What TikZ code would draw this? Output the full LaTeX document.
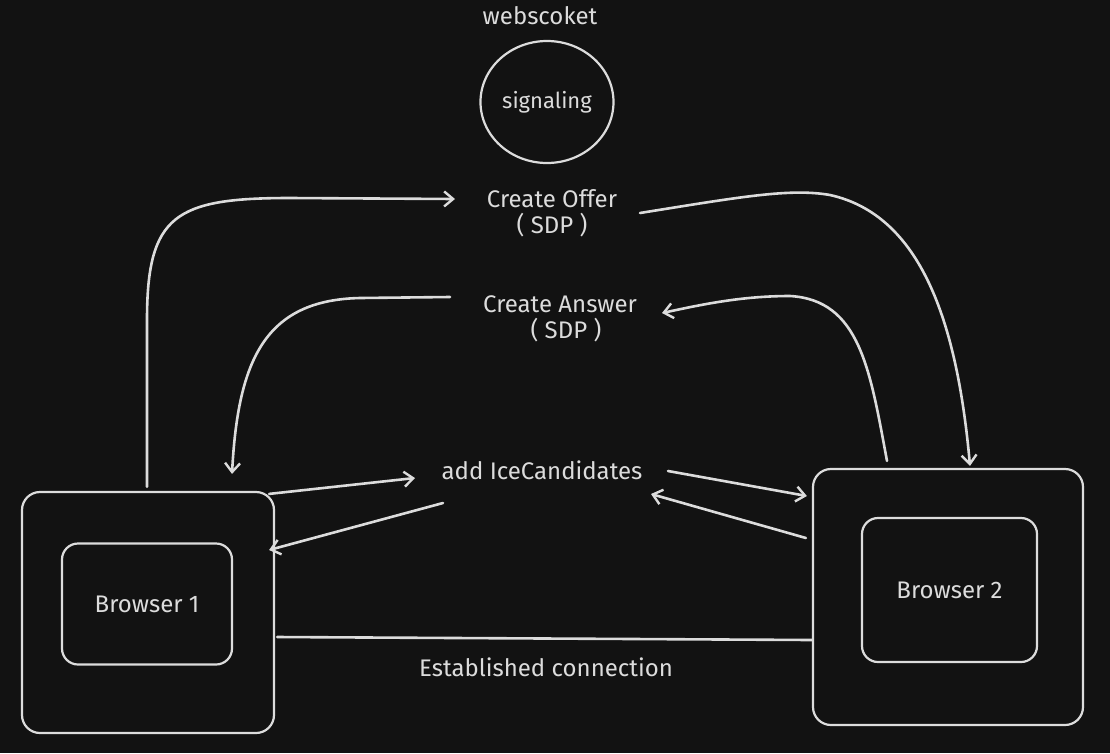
\documentclass[tikz,border=0pt]{standalone}
\usepackage{fontspec}
\setmainfont{Fira Sans}
\usetikzlibrary{arrows.meta,calc,shapes.geometric}
\definecolor{bgc}{HTML}{121212}
\definecolor{inkc}{HTML}{DCDCDC}
\begin{document}
\begin{tikzpicture}[x=1pt,y=-1pt,
  box/.style={draw=inkc, line width=2.2pt, rounded corners=18pt, inner sep=0pt},
  lbl/.style={text=inkc, font=\fontsize{24}{26.5}\selectfont, inner sep=0pt, align=center},
  arr/.style={draw=inkc, line width=2.6pt, line cap=round, -{Straight Barb[length=9pt,width=15pt,line width=2.4pt]}},
  link/.style={draw=inkc, line width=2.6pt, line cap=round}]
\fill[bgc] (0,0) rectangle (1110,753);
\useasboundingbox (0,0) rectangle (1110,753);

% boxes
\node[box, minimum width=252pt, minimum height=241pt] (b1) at (148,612.5) {};
\node[box, rounded corners=16pt, minimum width=170pt, minimum height=121pt, text=inkc, font=\fontsize{24}{26}\selectfont] (b1in) at (147,604) {Browser 1};
\node[box, minimum width=270pt, minimum height=256pt] (b2) at (948,597) {};
\node[box, rounded corners=16pt, minimum width=175pt, minimum height=144pt, text=inkc, font=\fontsize{24}{26}\selectfont] (b2in) at (949.5,590) {Browser 2};

% signaling
\node[draw=inkc, line width=2.2pt, ellipse, inner sep=0pt, minimum width=133pt, minimum height=122pt, text=inkc, font=\fontsize{22}{24}\selectfont] (sig) at (547,102) {signaling};
\node[lbl] (ws) at (540,16) {webscoket};

% labels
\node[lbl] (offer) at (552,213) {Create Offer\\( SDP )};
\node[lbl] (answer) at (560,319) {Create Answer\\\hspace*{12pt}( SDP )};
\node[lbl] (ice) at (542,470) {add IceCandidates};
\node[lbl] (est) at (546,667) {Established connection};

% create offer
\draw[arr] ($(b1.north)+(-1,-4)$) -- (147,320) .. controls (147,215) and (175,198) .. (290,198) -- ($(offer.center)+(-97,-14)$);
\draw[arr] ($(offer.center)+(88,0)$) .. controls (740,197) and (790,188) .. (830,195) .. controls (920,215) and (957,320) .. ($(b2.north)+(22,-2)$);

% create answer
\draw[arr] ($(b2.north)+(-61,-7)$) .. controls (870,370) and (860,300) .. (790,296) .. controls (740,296) and (700,305) .. ($(answer.center)+(102,-6)$);
\draw[arr] ($(answer.center)+(-110,-22)$) -- (360,298) .. controls (265,300) and (238,360) .. ($(b1.north)+(84,-17)$);

% ice candidates
\draw[arr] ($(b1.north east)+(-6,3)$) -- ($(ice.center)+(-127,8)$);
\draw[arr] ($(ice.center)+(-99,33)$) -- ($(b1.east)+(-6,-62.5)$);
\draw[arr] ($(ice.center)+(126,1)$) -- ($(b2.west)+(-5,-101)$);
\draw[arr] ($(b2.west)+(-6,-59)$) -- ($(ice.center)+(109,24)$);

% established connection
\draw[link] ($(b1.east)+(2,24.5)$) -- ($(b2.west)+(0,43)$);
\end{tikzpicture}
\end{document}
